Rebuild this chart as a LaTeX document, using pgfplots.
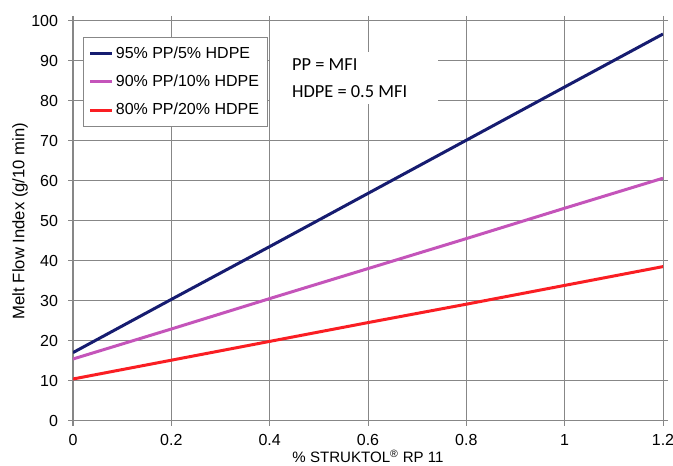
\documentclass[border=0pt]{standalone}
\usepackage{pgfplots}
\pgfplotsset{compat=1.18}
\usepackage{fontspec}
\setmainfont{Liberation Sans}
\newfontfamily\calibri{Carlito}

\definecolor{navyline}{RGB}{22,28,112}
\definecolor{pinkline}{RGB}{196,84,186}
\definecolor{redline}{RGB}{250,30,35}
\definecolor{gridgray}{RGB}{135,135,135}

\begin{document}
\begin{tikzpicture}
  \begin{axis}[
    scale only axis,
    width=442.5pt,
    height=300pt,
    xmin=0, xmax=1.2,
    ymin=0, ymax=100,
    xtick={0,0.2,...,1.2},
    ytick={0,10,...,100},
    xticklabels={0,0.2,0.4,0.6,0.8,1,1.2},
    grid=major,
    grid style={line width=0.75pt, draw=gridgray},
    axis line style={line width=0.75pt, draw=gridgray},
    tick style={line width=0.75pt, draw=gridgray},
    tick align=outside,
    major tick length=3.75pt,
    tick label style={font=\fontsize{12}{14}\selectfont, text=black},
    /pgf/number format/assume math mode=true,
    xticklabel style={inner sep=1pt, yshift=-5pt},
    yticklabel style={xshift=-4pt},
    xlabel={\% STRUKTOL\textsuperscript{®} RP 11},
    ylabel={Melt Flow Index (g/10 min)},
    x label style={font=\fontsize{11.3}{13}\selectfont, inner sep=0pt, at={(axis description cs:0.5,-0.1035)}, anchor=base},
    y label style={font=\fontsize{12.5}{14}\selectfont, at={(axis description cs:-0.0898,0.5)}, anchor=center},
    legend style={
      at={(rel axis cs:0.017,0.96)}, anchor=north west,
      draw=gridgray, line width=0.75pt, fill=white,
      font=\fontsize{12}{14}\selectfont,
      row sep=7pt, inner xsep=4pt, inner ysep=5pt,
      cells={anchor=west},
      /tikz/every even column/.append style={column sep=0pt},
    },
    legend image code/.code={\draw[#1, line width=2.25pt] (0pt,0pt) -- (16pt,0pt);},
    every axis plot/.append style={line width=2.25pt},
  ]
    \addplot[navyline, no markers] coordinates {
      (0,17.1) (0.2,30.4) (0.4,43.6) (0.6,56.9) (0.8,70.2) (1,83.5) (1.2,96.75)
    };
    \addlegendentry{95\% PP/5\% HDPE}
    \addplot[pinkline, no markers] coordinates {
      (0,15.5) (0.2,23.0) (0.4,30.6) (0.6,38.1) (0.8,45.6) (1,53.2) (1.2,60.7)
    };
    \addlegendentry{90\% PP/10\% HDPE}
    \addplot[redline, no markers] coordinates {
      (0,10.5) (0.2,15.2) (0.4,19.9) (0.6,24.6) (0.8,29.2) (1,33.9) (1.2,38.6)
    };
    \addlegendentry{80\% PP/20\% HDPE}
    \fill[white] (rel axis cs:0.334,0.7925) rectangle (rel axis cs:0.618,0.9225);
    \node[anchor=west, inner sep=0pt, font=\calibri\fontsize{13.8}{16}\selectfont]
      at (rel axis cs:0.371,0.89) {PP = MFI};
    \node[anchor=west, inner sep=0pt, font=\calibri\fontsize{13.8}{16}\selectfont]
      at (rel axis cs:0.371,0.8225) {HDPE = 0.5 MFI};
  \end{axis}
  \pgfresetboundingbox
  \useasboundingbox ([shift={(-54.75pt,-33.75pt)}]current axis.south west)
    rectangle ([shift={(7.5pt,15.75pt)}]current axis.north east);
\end{tikzpicture}
\end{document}
